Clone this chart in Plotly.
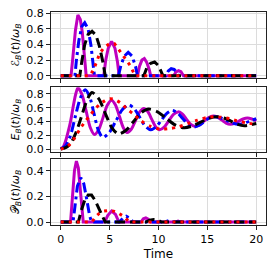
import plotly.graph_objects as go

# ---------------- data ----------------
# Energy E_B(t)/w_B
t_E_m = [0, 0.25, 0.5, 0.75, 1.0, 1.25, 1.5, 1.75, 2.175, 2.6, 3.025, 3.45, 3.89, 4.33, 4.76, 5.2,
         5.6, 6.0, 6.4, 6.8, 7.23, 7.65, 8.08, 8.5, 8.9, 9.3, 9.7, 10.1, 10.58, 11.05, 11.53, 12.0,
         12.43, 12.85, 13.28, 13.7, 14.18, 14.65, 15.13, 15.6, 16.04, 16.48, 16.91, 17.35, 17.79,
         18.23, 18.66, 19.1, 19.55, 20]
E_m = [0, 0.03, 0.12, 0.25, 0.40, 0.60, 0.78, 0.89, 0.79, 0.55, 0.31, 0.21, 0.283, 0.46, 0.637, 0.71,
       0.64, 0.475, 0.31, 0.24, 0.291, 0.415, 0.539, 0.59, 0.545, 0.435, 0.325, 0.28, 0.318, 0.41, 0.502, 0.54,
       0.509, 0.435, 0.361, 0.33, 0.352, 0.405, 0.458, 0.48, 0.462, 0.42, 0.378, 0.36, 0.373,
       0.405, 0.437, 0.45, 0.437, 0.41]

t_E_b = [0, 0.5, 1.0, 1.5, 2.0, 2.5, 2.95, 3.4, 3.85, 4.3, 4.96, 5.63, 6.29, 6.95, 7.51, 8.08, 8.64,
         9.2, 9.75, 10.3, 10.85, 11.4, 11.95, 12.5, 13.05, 13.6, 14.13, 14.65, 15.18, 15.7, 16.33,
         16.95, 17.58, 18.2, 18.8, 19.4, 20]
E_b = [0, 0.05, 0.20, 0.48, 0.74, 0.86, 0.76, 0.515, 0.27, 0.17, 0.239, 0.405, 0.571, 0.64, 0.587, 0.46, 0.333,
       0.28, 0.321, 0.42, 0.519, 0.56, 0.525, 0.44, 0.355, 0.32, 0.342, 0.395, 0.448, 0.47, 0.454,
       0.415, 0.376, 0.36, 0.375, 0.41, 0.44]

t_E_k = [0, 0.5, 1.0, 1.5, 2.0, 2.5, 2.85, 3.2, 3.88, 4.55, 5.23, 5.9, 6.68, 7.45, 8.23, 9.0, 9.9,
         10.8, 11.7, 12.6, 13.45, 14.3, 15.15, 16.0, 16.7, 17.4, 18.1, 18.8, 19.4, 20]
E_k = [0, 0.02, 0.08, 0.22, 0.42, 0.64, 0.76, 0.82, 0.732, 0.52, 0.308, 0.22, 0.273, 0.40, 0.527, 0.58, 0.54,
       0.445, 0.35, 0.31, 0.333, 0.39, 0.447, 0.47, 0.451, 0.405, 0.359, 0.34, 0.35, 0.37]

t_E_r = [0, 0.5, 1.0, 1.5, 2.0, 2.5, 3.0, 3.5, 4.0, 4.5, 5.0, 5.5, 6.1, 6.8, 7.5, 8.2, 9.2, 10.2,
         11.0, 12.0, 13.0, 14.0, 15.0, 15.7, 16.5, 17.3, 18.0, 19.0, 20]
E_r = [0, 0.02, 0.08, 0.18, 0.30, 0.40, 0.49, 0.58, 0.65, 0.70, 0.73, 0.72, 0.67, 0.58, 0.50, 0.41, 0.33, 0.29,
       0.295, 0.32, 0.37, 0.42, 0.46, 0.47, 0.46, 0.44, 0.41, 0.38, 0.36]

# Ergotropy script-E_B(t)/w_B
t_W_m = [0, 1.05, 1.25, 1.5, 1.75, 2.0, 2.2, 2.45, 2.6, 4.4, 4.6, 4.85, 5.2, 5.55, 5.8, 5.97,
         7.85, 8.05, 8.3, 8.55, 8.8, 9.05, 9.2, 11.55, 11.8, 12.05, 12.3, 12.55, 20]
W_m = [0, 0, 0.25, 0.58, 0.78, 0.72, 0.56, 0.25, 0, 0, 0.2, 0.35, 0.44, 0.35, 0.18, 0,
       0, 0.12, 0.2, 0.22, 0.17, 0.08, 0, 0, 0.05, 0.065, 0.05, 0, 0]

t_W_b = [0, 1.45, 1.6, 1.85, 2.15, 2.45, 2.8, 3.1, 3.35, 3.45, 5.9, 6.15, 6.5, 6.9, 7.3, 7.65, 7.85,
         10.75, 11.0, 11.3, 11.6, 11.9, 12.05, 20]
W_b = [0, 0, 0.2, 0.45, 0.63, 0.68, 0.6, 0.38, 0.1, 0, 0, 0.13, 0.25, 0.30, 0.25, 0.12, 0,
       0, 0.06, 0.09, 0.08, 0.04, 0, 0]

t_W_k = [0, 1.95, 2.15, 2.45, 2.8, 3.2, 3.6, 3.95, 4.3, 4.55, 8.5, 8.8, 9.2, 9.6, 10.0, 10.3, 10.45, 20]
W_k = [0, 0, 0.18, 0.40, 0.53, 0.57, 0.52, 0.38, 0.18, 0, 0, 0.1, 0.16, 0.175, 0.13, 0.05, 0, 0]

t_W_r = [0, 3.0, 3.4, 3.7, 4.0, 4.5, 5.0, 5.5, 5.8, 6.1, 6.6, 7.1, 7.45, 7.6, 20]
W_r = [0, 0, 0.09, 0.20, 0.29, 0.37, 0.41, 0.41, 0.36, 0.30, 0.22, 0.13, 0.04, 0, 0]

# P_B(t)/w_B
t_P_m = [0, 1.0, 1.2, 1.4, 1.6, 1.8, 2.0, 2.2, 2.3, 4.5, 4.8, 5.2, 5.6, 5.95, 8.2, 8.45, 8.7, 8.95, 9.2,
         11.7, 12.0, 12.3, 20]
P_m = [0, 0, 0.2, 0.4, 0.475, 0.42, 0.25, 0.06, 0, 0, 0.05, 0.085, 0.06, 0, 0, 0.025, 0.032, 0.022, 0,
       0, 0.008, 0, 0]

t_P_b = [0, 1.25, 1.45, 1.7, 2.05, 2.35, 2.65, 2.95, 3.15, 6.0, 6.35, 6.7, 7.05, 7.4, 10.6, 11.1, 11.6, 20]
P_b = [0, 0, 0.12, 0.28, 0.345, 0.30, 0.18, 0.05, 0, 0, 0.03, 0.045, 0.03, 0, 0, 0.012, 0, 0]

t_P_k = [0, 1.8, 2.1, 2.45, 2.8, 3.15, 3.5, 3.8, 4.1, 4.4, 4.55, 8.7, 9.1, 9.5, 9.9, 10.3, 20]
P_k = [0, 0, 0.09, 0.17, 0.21, 0.21, 0.17, 0.12, 0.07, 0.02, 0, 0, 0.015, 0.02, 0.015, 0, 0]

t_P_r = [0, 3.2, 3.55, 3.9, 4.4, 4.9, 5.4, 5.9, 6.4, 6.8, 7.05, 20]
P_r = [0, 0, 0.04, 0.065, 0.085, 0.09, 0.085, 0.07, 0.045, 0.015, 0, 0]

x_ticks = [0, 5, 10, 15, 20]
y_ticks_top = [0.0, 0.2, 0.4, 0.6, 0.8]
y_ticks_mid = [0.0, 0.2, 0.4, 0.6, 0.8]
y_ticks_bot = [0.0, 0.2, 0.4]
y_titles = ["ℰ<sub><i>B</i></sub>(<i>t</i>)/<i>ω</i><sub><i>B</i></sub>",
            "<i>E</i><sub><i>B</i></sub>(<i>t</i>)/<i>ω</i><sub><i>B</i></sub>",
            "𝒫<sub><i>B</i></sub>(<i>t</i>)/<i>ω</i><sub><i>B</i></sub>"]

# ---------------- styling ----------------
styles = [
    dict(color="#BF00BF", dash="solid"),
    dict(color="#0000FF", dash="10px,4px,3px,4px"),
    dict(color="#000000", dash="10px,5px"),
    dict(color="#FF0000", dash="3px,5px"),
]
LW = 3

fig = go.Figure()

panels = [
    ([(t_W_m, W_m), (t_W_b, W_b), (t_W_k, W_k), (t_W_r, W_r)], "x", "y", "linear"),
    ([(t_E_m, E_m), (t_E_b, E_b), (t_E_k, E_k), (t_E_r, E_r)], "x2", "y2", "spline"),
    ([(t_P_m, P_m), (t_P_b, P_b), (t_P_k, P_k), (t_P_r, P_r)], "x3", "y3", "linear"),
]
for series, xa, ya, shape in panels:
    for (tt, vv), st in zip(series, styles):
        fig.add_trace(go.Scatter(
            x=tt, y=vv, mode="lines", xaxis=xa, yaxis=ya, showlegend=False,
            line=dict(color=st["color"], dash=st["dash"], width=LW, shape=shape,
                      smoothing=0.8 if shape == "spline" else None),
        ))

font = "DejaVu Sans"
common_x = dict(range=[-1, 21], tickvals=x_ticks, showgrid=True, gridcolor="#dcdcdc", gridwidth=1,
                zeroline=False, showline=True, linecolor="#222222", linewidth=1, mirror=True,
                ticks="outside", ticklen=4, tickcolor="#222222", domain=[0, 1],
                tickfont=dict(family=font, size=11, color="#000000"))
common_y = dict(showgrid=True, gridcolor="#dcdcdc", gridwidth=1, zeroline=False, showline=True,
                linecolor="#222222", linewidth=1, mirror=True, ticks="outside", ticklen=4,
                tickcolor="#222222", tickformat=".1f",
                tickfont=dict(family=font, size=11, color="#000000"))

fig.update_layout(
    width=274, height=269,
    margin=dict(l=51, r=8, t=12, b=44, autoexpand=False),
    paper_bgcolor="white", plot_bgcolor="white",
    font=dict(family=font, size=11, color="#000000"),
    xaxis=dict(common_x, anchor="y", showticklabels=False),
    xaxis2=dict(common_x, anchor="y2", showticklabels=False),
    xaxis3=dict(common_x, anchor="y3", showticklabels=True,
                title=dict(text="Time", font=dict(family=font, size=12), standoff=4)),
    yaxis=dict(common_y, anchor="x", domain=[0.690, 1.0], range=[-0.03, 0.817], tickvals=y_ticks_top,
               title=dict(text=y_titles[0], font=dict(family=font, size=11), standoff=4)),
    yaxis2=dict(common_y, anchor="x2", domain=[0.344, 0.6465], range=[-0.039, 0.897], tickvals=y_ticks_mid,
                title=dict(text=y_titles[1], font=dict(family=font, size=10.5), standoff=4)),
    yaxis3=dict(common_y, anchor="x3", domain=[0.0, 0.31], range=[-0.023, 0.491], tickvals=y_ticks_bot,
                title=dict(text=y_titles[2], font=dict(family=font, size=11), standoff=4)),
)

fig.write_html("out.html", config={"displayModeBar": False},
               post_script="document.body.style.margin='0';document.body.style.padding='0';"
                           "document.documentElement.style.overflow='hidden';")
